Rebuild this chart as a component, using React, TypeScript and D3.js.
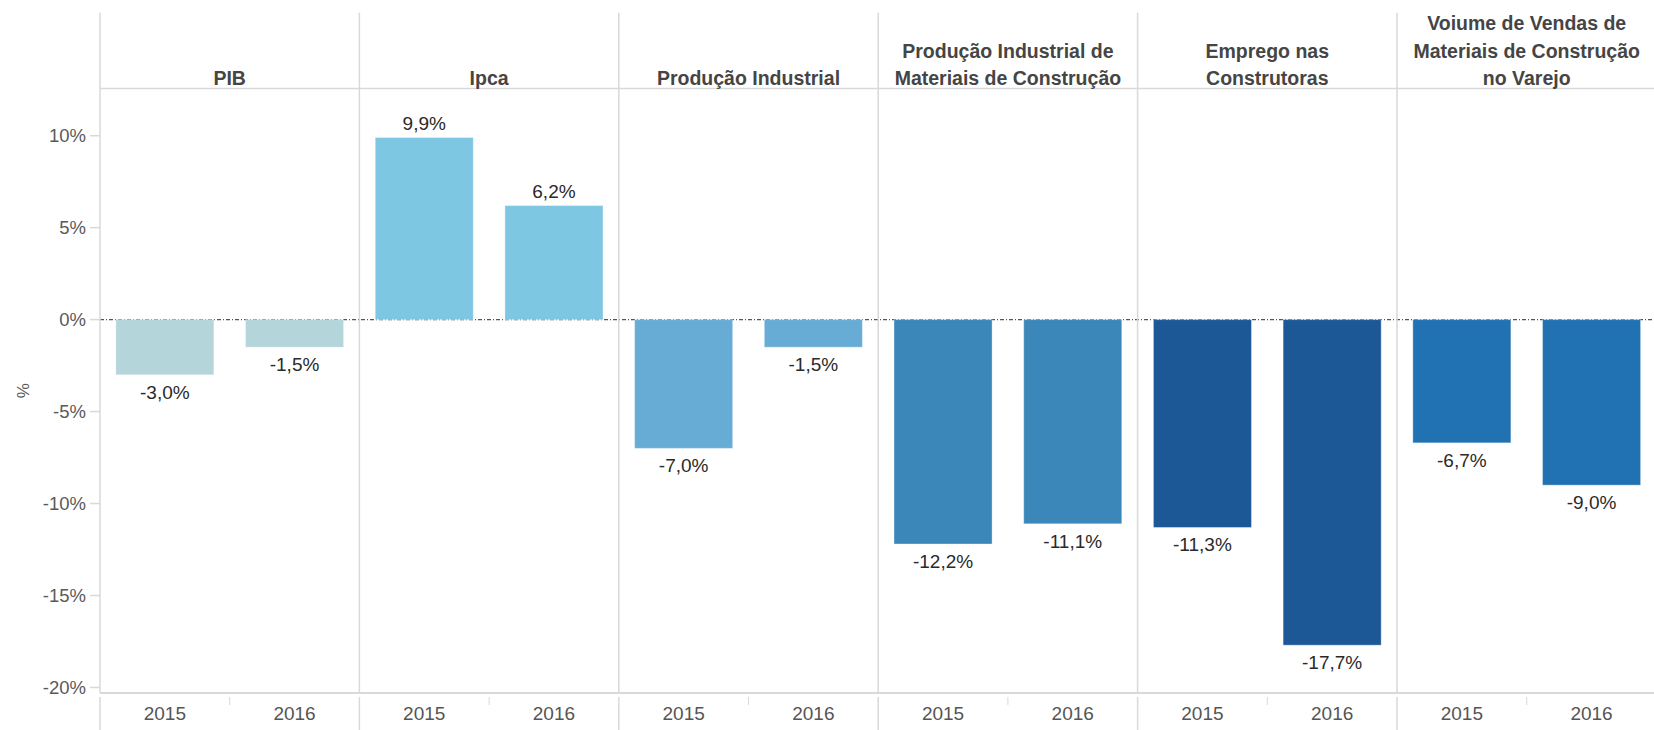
import React from "react";
import * as d3 from "d3";

const categories = [
  "PIB",
  "Ipca",
  "Produção Industrial",
  "Produção Industrial de Materiais de Construção",
  "Emprego nas Construtoras",
  "Voiume de Vendas de Materiais de Construção no Varejo",
];
const headerLines = [
  ["PIB"],
  ["Ipca"],
  ["Produção Industrial"],
  ["Produção Industrial de", "Materiais de Construção"],
  ["Emprego nas", "Construtoras"],
  ["Voiume de Vendas de", "Materiais de Construção", "no Varejo"],
];
const years = ["2015", "2016"];
const values2015 = [-3.0, 9.9, -7.0, -12.2, -11.3, -6.7];
const values2016 = [-1.5, 6.2, -1.5, -11.1, -17.7, -9.0];
const yTicks = [10, 5, 0, -5, -10, -15, -20];
const yTickLabels = ["10%", "5%", "0%", "-5%", "-10%", "-15%", "-20%"];
const colors = ["#b4d5da", "#7dc7e2", "#67acd5", "#3b87b9", "#1c5896", "#2172b2"];

const W = 1654;
const H = 730;
const left = 100;
const panelW = 259.4;
const headerTop = 12.7;
const headerBottom = 88.6;
const plotBottom = 693;
const font = "'Liberation Sans', Arial, sans-serif";

const fmt = (v: number) => v.toFixed(1).replace(".", ",") + "%";

export default function App() {
  const xOuter = d3
    .scaleBand<string>()
    .domain(categories)
    .range([left, left + panelW * categories.length])
    .padding(0);
  const xInner = d3
    .scaleBand<string>()
    .domain(years)
    .range([0, panelW])
    .paddingInner(0.244)
    .paddingOuter(0.122);
  const y = d3.scaleLinear().domain([-20.3, 12.56]).range([plotBottom, headerBottom]);

  const series = [values2015, values2016];
  const grid = "#d9d9d9";

  return (
    <svg
      width={W}
      height={H}
      style={{ position: "absolute", left: 0, top: 0, background: "#fff" }}
      fontFamily={font}
    >
      {/* zero line */}
      <line
        x1={left}
        x2={W}
        y1={y(0)}
        y2={y(0)}
        stroke="#555"
        strokeWidth={1.3}
        strokeDasharray="4 2 1 2"
      />
      {/* bars */}
      {categories.map((c, i) => (
        <g key={c} transform={`translate(${xOuter(c)},0)`}>
          {years.map((yr, j) => {
            const v = series[j][i];
            const x0 = xInner(yr)!;
            const bw = xInner.bandwidth();
            const yTop = y(Math.max(0, v));
            const yBot = y(Math.min(0, v));
            return (
              <g key={yr}>
                <rect
                  x={x0}
                  y={yTop}
                  width={bw}
                  height={yBot - yTop}
                  fill={colors[i]}
                  stroke="#ffffff"
                  strokeOpacity={0.35}
                  strokeWidth={1}
                />
                <text
                  x={x0 + bw / 2}
                  y={v >= 0 ? y(v) - 8 : y(v) + 24}
                  textAnchor="middle"
                  fontSize={19}
                  fill="#2a2a2a"
                >
                  {fmt(v)}
                </text>
              </g>
            );
          })}
        </g>
      ))}
      {/* panel dividers */}
      {categories.map((c, i) => (
        <g key={"d" + c}>
          <line
            x1={xOuter(c)!}
            x2={xOuter(c)!}
            y1={headerTop}
            y2={plotBottom}
            stroke={grid}
            strokeWidth={1.5}
          />
          <line
            x1={xOuter(c)!}
            x2={xOuter(c)!}
            y1={697}
            y2={H}
            stroke={grid}
            strokeWidth={1.5}
          />
          <line
            x1={xOuter(c)! + panelW / 2}
            x2={xOuter(c)! + panelW / 2}
            y1={697}
            y2={705}
            stroke={grid}
            strokeWidth={1}
          />
        </g>
      ))}
      {/* header line and bottom line */}
      <line x1={left} x2={W} y1={headerBottom} y2={headerBottom} stroke={grid} strokeWidth={1.5} />
      <line x1={left} x2={W} y1={plotBottom} y2={plotBottom} stroke={grid} strokeWidth={2} />
      {/* headers */}
      {categories.map((c, i) => {
        const lines = headerLines[i];
        const n = lines.length;
        return (
          <text
            key={"h" + c}
            textAnchor="middle"
            fontSize={19.5}
            fontWeight="bold"
            fill="#454545"
          >
            {lines.map((ln, k) => (
              <tspan key={k} x={xOuter(c)! + panelW / 2} y={85 - (n - 1 - k) * 27.4}>
                {ln}
              </tspan>
            ))}
          </text>
        );
      })}
      {/* year labels */}
      {categories.map((c) =>
        years.map((yr) => (
          <text
            key={c + yr}
            x={xOuter(c)! + xInner(yr)! + xInner.bandwidth() / 2}
            y={720}
            textAnchor="middle"
            fontSize={19}
            fill="#555"
          >
            {yr}
          </text>
        ))
      )}
      {/* y axis */}
      {yTicks.map((t, k) => (
        <g key={"t" + t}>
          <line x1={90} x2={left} y1={y(t)} y2={y(t)} stroke={grid} strokeWidth={1.5} />
          <text
            x={86}
            y={y(t)}
            dy="0.36em"
            textAnchor="end"
            fontSize={18.5}
            fill="#5a5a5a"
          >
            {yTickLabels[k]}
          </text>
        </g>
      ))}
      <text
        transform={`translate(23,${(headerBottom + plotBottom) / 2}) rotate(-90)`}
        textAnchor="middle"
        dy="0.35em"
        fontSize={17}
        fill="#5a5a5a"
      >
        %
      </text>
    </svg>
  );
}
